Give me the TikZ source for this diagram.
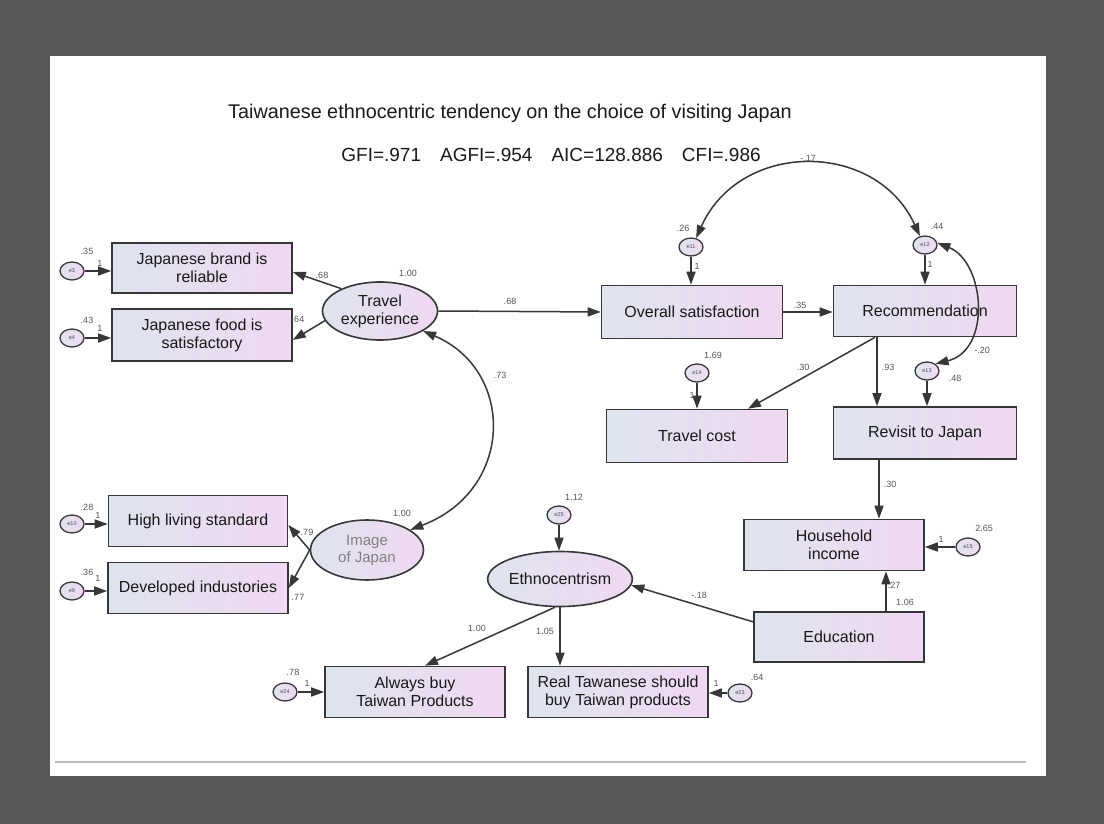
\documentclass[tikz,border=0pt]{standalone}
\usepackage{fontspec}
\setmainfont{Liberation Sans}
\usetikzlibrary{arrows.meta,shapes.geometric}
\definecolor{bg}{RGB}{88,88,88}
\definecolor{boxL}{RGB}{222,228,238}
\definecolor{boxR}{RGB}{240,216,242}
\definecolor{edge}{RGB}{55,55,55}
\definecolor{lbl}{RGB}{85,85,85}
\definecolor{rulec}{RGB}{190,190,190}
\begin{document}
\begin{tikzpicture}[x=1pt,y=-1pt,
  box/.style={draw=edge,line width=1.6pt,left color=boxL,right color=boxR,minimum height=51pt,align=center,inner sep=0pt,font=\fontsize{16}{18}\selectfont,text=black!90},
  lat/.style={draw=edge,line width=1.6pt,ellipse,left color=boxL,right color=boxR,align=center,inner sep=0pt,font=\fontsize{16}{18}\selectfont,text=black!90},
  err/.style={draw=edge,line width=1.3pt,ellipse,left color=boxL,right color=boxR,minimum width=24pt,minimum height=18pt,inner sep=0pt,font=\fontsize{5.5}{6}\selectfont,text=black!70},
  arr/.style={draw=edge,line width=1.5pt,-{Triangle[length=13pt,width=9pt]}},
  dbl/.style={draw=edge,line width=1.5pt,{Triangle[length=13pt,width=9pt]}-{Triangle[length=13pt,width=9pt]}},
  lb/.style={font=\fontsize{9}{10}\selectfont,text=lbl,inner sep=0pt},
  ttl/.style={font=\fontsize{19}{22}\selectfont,text=black!90,inner sep=0pt}
]
\useasboundingbox (0,0) rectangle (1104,824);
\fill[bg] (0,0) rectangle (1104,824);
\fill[white] (50,56) rectangle (1046,776);
\draw[rulec,line width=1.5pt] (55,762) -- (1026,762);

\node[ttl,font=\fontsize{19.8}{22}\selectfont] (title) at (510,113) {Taiwanese ethnocentric tendency on the choice of visiting Japan};
\node[ttl] (fit) at (551,155) {GFI=.971\hspace{19pt}AGFI=.954\hspace{19pt}AIC=128.886\hspace{19pt}CFI=.986};

% observed and latent variables
\node[box,minimum width=180pt,minimum height=50pt] (jb) at (202,268) {Japanese brand is\\reliable};
\node[box,minimum width=180pt,minimum height=52pt] (jf) at (202,335) {Japanese food is\\satisfactory};
\node[box,minimum width=179pt] (hl) at (198,521) {High living standard};
\node[box,minimum width=180pt] (di) at (198,588) {Developed industories};
\node[lat,minimum width=115pt,minimum height=58pt] (te) at (380,311) {Travel\\experience};
\node[lat,minimum width=113pt,minimum height=60pt,text=black!50,font=\fontsize{15}{17}\selectfont] (ij) at (367,550) {Image\\of Japan};
\node[box,minimum width=181pt,minimum height=53pt] (os) at (692,312) {Overall satisfaction};
\node[box,minimum width=183pt] (rec) at (925,311) {Recommendation};
\node[box,minimum width=181pt,minimum height=53pt] (tc) at (697,436) {Travel cost};
\node[box,minimum width=183pt,minimum height=52pt] (rv) at (925,433) {Revisit to Japan};
\node[box,minimum width=180pt] (hi) at (834,545) {Household\\income};
\node[box,minimum width=170pt,minimum height=50pt] (edu) at (839,637) {Education};
\node[lat,minimum width=116pt,minimum height=55pt] (eth) at (560,579) {Ethnocentrism};
\node[box,minimum width=180pt] (ab) at (415,692) {Always buy\\Taiwan Products};
\node[box,minimum width=180pt] (rt) at (618,692) {Real Tawanese should\\buy Taiwan products};

% error terms
\node[err] (e3) at (72,271) {e3};
\node[err] (e4) at (72,338) {e4};
\node[err] (e10) at (72,524) {e10};
\node[err] (e9) at (72,591) {e9};
\node[err] (e11) at (691,247) {e11};
\node[err] (e12) at (925,245) {e12};
\node[err] (e13) at (927,371) {e13};
\node[err] (e14) at (697,373) {e14};
\node[err] (e15) at (968,547) {e15};
\node[err] (e25) at (559,515) {e25};
\node[err] (e24) at (285,692) {e24};
\node[err] (e23) at (740,693) {e23};

% helper coordinates
\coordinate (r1) at ([xshift=-50pt]rec.south);
\coordinate (t1) at ([xshift=51pt]tc.north);
\coordinate (r2) at ([xshift=-48pt]rec.south);
\coordinate (v1) at ([xshift=-46pt]rv.south);
\coordinate (d1) at ([xshift=47pt]edu.north);
\coordinate (a1) at ([xshift=10pt]ab.north);

% paths
\draw[arr] (e3.east) -- (e3.east -| jb.west);
\draw[arr] (e4.east) -- (e4.east -| jf.west);
\draw[arr] (e10.east) -- (e10.east -| hl.west);
\draw[arr] (e9.east) -- (e9.east -| di.west);
\draw[arr] (te.150) -- ([yshift=-4pt]jb.east);
\draw[arr] (te.190) -- ([yshift=-5pt]jf.east);
\draw[arr] (ij.west) -- ([yshift=-4pt]hl.east);
\draw[arr] (ij.west) -- (di.east);
\draw[arr] (te.east) -- (os.west);
\draw[arr] (os.east) -- (os.east -| rec.west);
\draw[arr] (e11.south) -- (e11.south |- os.north);
\draw[arr] (e12.south) -- (e12.south |- rec.north);
\draw[arr] (r1) -- (t1);
\draw[arr] (r2) -- (r2 |- rv.north);
\draw[arr] (e14.south) -- (e14.south |- tc.north);
\draw[arr] (e13.south) -- (e13.south |- rv.north);
\draw[arr] (v1) -- (v1 |- hi.north);
\draw[arr] (e15.west) -- (e15.west -| hi.east);
\draw[arr] (d1) -- (d1 |- hi.south);
\draw[arr] (edu.170) -- (eth.-5);
\draw[arr] (e25.south) -- (e25.south |- eth.north);
\draw[arr] (eth.260) -- (a1);
\draw[arr] (eth.south) -- (eth.south |- rt.north);
\draw[arr] (e24.east) -- (e24.east -| ab.west);
\draw[arr] (e23.west) -- (e23.west -| rt.east);

\draw[dbl] (te.-25) .. controls (515,370) and (515,490) .. (ij.25);
\draw[dbl] (e11.60) .. controls (740,140) and (876,140) .. (e12.120);
\draw[dbl] (e12.10) .. controls (985,262) and (992,350) .. (e13.40);

% estimates
\node[lb] (l1) at (87,251) {.35};
\node[lb] (l2) at (100,263) {1};
\node[lb] (l3) at (87,320) {.43};
\node[lb] (l4) at (100,328) {1};
\node[lb] (l5) at (322,275) {.68};
\node[lb] (l6) at (298,319) {.64};
\node[lb] (l7) at (408,273) {1.00};
\node[lb] (l8) at (510,301) {.68};
\node[lb] (l9) at (500,375) {.73};
\node[lb] (l10) at (87,507) {.28};
\node[lb] (l11) at (98,515) {1};
\node[lb] (l12) at (87,572) {.36};
\node[lb] (l13) at (98,578) {1};
\node[lb] (l14) at (307,532) {.79};
\node[lb] (l15) at (298,597) {.77};
\node[lb] (l16) at (402,513) {1.00};
\node[lb] (l17) at (683,228) {.26};
\node[lb] (l18) at (697,266) {1};
\node[lb] (l19) at (937,226) {.44};
\node[lb] (l20) at (930,264) {1};
\node[lb] (l21) at (808,158) {-.17};
\node[lb] (l22) at (800,305) {.35};
\node[lb] (l23) at (713,355) {1.69};
\node[lb] (l24) at (692,395) {1};
\node[lb] (l25) at (803,367) {.30};
\node[lb] (l26) at (888,367) {.93};
\node[lb] (l27) at (982,350) {-.20};
\node[lb] (l28) at (955,378) {.48};
\node[lb] (l29) at (890,484) {.30};
\node[lb] (l30) at (984,528) {2.65};
\node[lb] (l31) at (941,539) {1};
\node[lb] (l32) at (894,585) {.27};
\node[lb] (l33) at (905,602) {1.06};
\node[lb] (l34) at (699,595) {-.18};
\node[lb] (l35) at (574,497) {1.12};
\node[lb] (l36) at (477,628) {1.00};
\node[lb] (l37) at (545,631) {1.05};
\node[lb] (l38) at (293,672) {.78};
\node[lb] (l39) at (307,683) {1};
\node[lb] (l40) at (716,683) {1};
\node[lb] (l41) at (757,677) {.64};
\end{tikzpicture}
\end{document}
